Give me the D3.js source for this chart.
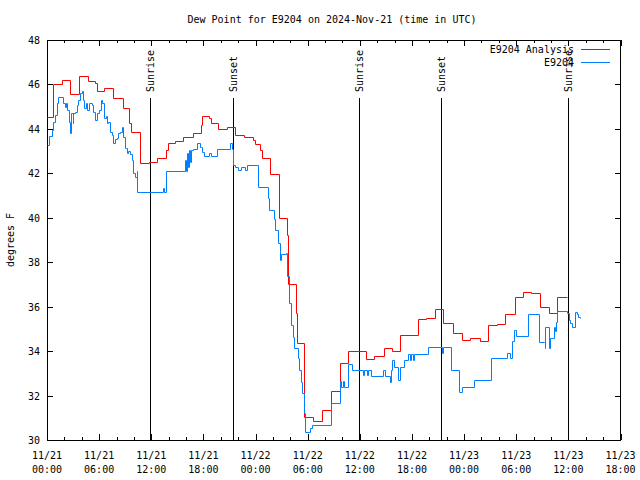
<!DOCTYPE html>
<html><head><meta charset="utf-8">
<script src="https://cdn.jsdelivr.net/npm/d3@7"></script>
<style>
body{margin:0;background:#fff;}
text{font-family:"DejaVu Sans Mono",monospace;font-size:10px;fill:#000;}
</style></head>
<body><svg id="c" width="640" height="480"></svg>
<script>
const titleText = "Dew Point for E9204 on 2024-Nov-21 (time in UTC)";
const yLabel = "degrees F";
const seriesNames = ["E9204 Analysis", "E9204"];
const seriesColors = ["#ff0000", "#0080ff"];
const xTickHours = [0,6,12,18,24,30,36,42,48,54,60,66];
const xTickLabels = ["11/21\n00:00","11/21\n06:00","11/21\n12:00","11/21\n18:00","11/22\n00:00","11/22\n06:00","11/22\n12:00","11/22\n18:00","11/23\n00:00","11/23\n06:00","11/23\n12:00","11/23\n18:00"];
const yTicks = [30,32,34,36,38,40,42,44,46,48];
const sunEventHours = [11.8, 21.35, 35.85, 45.4, 59.95];
const sunEventNames = ["Sunrise","Sunset","Sunrise","Sunset","Sunrise"];

const analysisHours = [0,0.66,1.69,2.65,3.72,4.76,5.53,5.72,6.57,7.57,8.72,9.48,9.64,10.71,11.78,12.70,13.71,13.90,14.74,15.70,16.78,17.70,17.85,18.69,18.85,19.73,20.70,21.65,22.69,23.69,23.96,24.53,24.76,25.68,26.72,27.61,27.72,28.60,28.76,29.60,30.60,31.64,32.71,33.67,34.63,36.74,37.66,38.74,39.70,40.66,42.65,43.65,44.69,45.58,46.73,47.77,48.72,49.79,50.76,51.80,52.75,53.82,54.75,55.71,56.78,57.74,58.74,59.86];
const analysisValues = [44.55,46.0,46.18,45.55,46.38,46.17,46.08,45.7,45.83,45.38,44.92,44.25,43.88,42.47,42.51,42.68,43.05,43.35,43.47,43.65,43.83,44.18,44.58,44.47,44.28,44.0,44.08,43.72,43.62,43.5,43.32,43.05,42.68,41.97,39.98,39.23,37.0,35.7,34.38,31.05,30.86,31.35,32.2,33.45,34.02,33.63,33.78,34.12,34.0,34.72,35.45,35.5,35.88,35.25,34.8,34.48,34.57,34.46,35.18,35.22,35.67,36.42,36.65,36.6,35.97,35.7,36.45,36.45];

const obsHours = [0,0.26,0.54,0.73,0.92,1.12,1.30,1.88,2.07,2.19,2.34,2.57,2.65,2.76,2.96,3.03,3.23,3.42,3.61,3.80,4.00,4.11,4.26,4.46,4.64,4.84,5.15,5.33,5.53,5.79,6.02,6.19,6.37,6.57,6.76,6.88,7.06,7.26,7.45,7.64,7.83,8.03,8.21,8.41,8.60,8.79,8.98,9.18,9.36,9.56,9.76,9.87,10.14,10.33,10.40,13.40,13.48,13.71,15.90,16.01,16.13,16.24,16.32,16.44,16.55,16.78,17.31,17.62,17.82,18.08,18.69,18.85,19.55,21.08,21.27,21.46,21.65,22.03,22.31,22.81,23.00,24.23,25.49,25.60,26.18,26.26,26.64,26.76,26.92,27.53,27.61,27.87,28.07,28.30,28.37,28.88,29.03,29.22,29.37,29.52,29.64,30.29,30.49,32.71,33.67,33.83,34.06,34.21,34.59,35.10,36.40,36.52,36.86,36.97,37.32,38.67,38.93,39.43,39.59,39.70,39.97,40.35,40.58,41.04,41.50,41.81,41.93,42.16,42.27,43.80,45.44,45.53,46.50,47.37,47.77,49.10,51.14,52.95,53.25,53.52,53.79,54.02,55.32,56.59,57.16,57.28,57.36,57.82,57.94,58.32,58.43,58.59,58.71,59.86,60.04,60.24,60.43,60.82,61.00,61.15,61.39];
const obsValues = [43.28,43.68,43.95,44.33,44.63,45.15,45.42,45.15,45.0,45.15,44.85,44.33,43.8,44.7,44.25,44.7,44.78,45.08,45.3,45.6,45.72,45.3,44.92,45.15,44.85,45.15,45.08,44.78,44.42,44.7,44.85,45.3,45.15,44.47,44.6,44.25,44.3,43.87,43.72,43.35,43.55,43.6,43.8,43.85,44.1,43.65,43.12,42.9,43.0,42.85,42.6,42.0,41.85,42.1,41.14,41.35,41.14,42.12,42.6,42.12,42.9,42.3,43.05,42.5,43.05,43.08,43.35,43.2,42.97,42.78,42.9,42.78,43.08,43.35,43.08,42.38,42.3,42.15,42.3,42.15,42.38,41.37,40.87,40.37,39.93,39.45,38.85,38.1,38.37,38.4,37.4,36.15,35.18,34.62,34.12,33.67,33.15,32.62,32.1,31.2,30.38,30.52,30.67,31.65,32.67,32.4,32.67,32.4,33.42,33.15,32.92,33.15,32.92,33.15,32.88,33.15,32.88,32.62,33.15,33.6,33.3,32.72,33.3,33.6,33.87,33.6,33.87,33.6,33.87,34.17,33.9,34.17,33.15,32.14,32.4,32.7,33.67,33.9,33.67,34.46,34.95,34.68,35.67,34.43,34.4,34.12,35.1,34.12,34.6,35.1,34.9,35.32,35.82,35.7,35.4,35.25,35.1,35.75,35.65,35.55,35.47];

const L = 47, R = 620.5, T = 40, B = 440;
const svg = d3.select("#c");
const x = d3.scaleLinear().domain([0, 66]).range([L, R]);
const y = d3.scaleLinear().domain([30, 48]).range([B, T]);

// frame
svg.append("rect").attr("x", L).attr("y", T).attr("width", R - L).attr("height", B - T)
  .attr("fill", "none").attr("stroke", "#000").attr("stroke-width", 1).attr("shape-rendering", "crispEdges");

// ticks
const minorHours = d3.range(0, 67, 2);
const tg = svg.append("g").attr("stroke", "#000").attr("shape-rendering", "crispEdges");
minorHours.forEach(h => {
  const major = h % 6 === 0;
  const len = major ? 6 : 3;
  const px = Math.round(x(h)) + 0.5;
  tg.append("line").attr("x1", px).attr("x2", px).attr("y1", B).attr("y2", B - len);
  tg.append("line").attr("x1", px).attr("x2", px).attr("y1", T).attr("y2", T + len);
});
yTicks.forEach(v => {
  const py = Math.round(y(v)) + 0.5;
  tg.append("line").attr("x1", L).attr("x2", L + 6).attr("y1", py).attr("y2", py);
  tg.append("line").attr("x1", R - 6).attr("x2", R).attr("y1", py).attr("y2", py);
});

// tick labels
yTicks.forEach(v => {
  svg.append("text").attr("x", 40).attr("y", y(v) + 4).attr("text-anchor", "end").text(v);
});
xTickHours.forEach((h, i) => {
  const parts = xTickLabels[i].split("\n");
  const t = svg.append("text").attr("text-anchor", "middle");
  parts.forEach((p, j) => t.append("tspan").attr("x", x(h)).attr("y", 459 + j * 14).text(p));
});

// title and axis label
svg.append("text").attr("x", 332).attr("y", 23).attr("text-anchor", "middle").text(titleText);
svg.append("text").attr("transform", "translate(14,240) rotate(-90)").attr("text-anchor", "middle").text(yLabel);

// sun events
sunEventHours.forEach((h, i) => {
  const px = Math.round(x(h)) + 0.5;
  svg.append("line").attr("x1", px).attr("x2", px).attr("y1", 98).attr("y2", B)
    .attr("stroke", "#000").attr("stroke-width", 1).attr("shape-rendering", "crispEdges");
  svg.append("text").attr("transform", `translate(${px + 3.5},92) rotate(-90)`)
    .attr("text-anchor", "start").text(sunEventNames[i]);
});

// series (snapped to pixel centres for crisp 1px steps)
const line = d3.line()
  .x(d => Math.round(x(d[0])) + 0.5)
  .y(d => Math.round(y(d[1])) + 0.5)
  .curve(d3.curveStepAfter);
const analysis = analysisHours.map((h, i) => [h, analysisValues[i]]);
const obs = obsHours.map((h, i) => [h, obsValues[i]]);
svg.append("path").datum(analysis).attr("d", line).attr("fill", "none")
  .attr("stroke", seriesColors[0]).attr("stroke-width", 1);
svg.append("path").datum(obs).attr("d", line).attr("fill", "none")
  .attr("stroke", seriesColors[1]).attr("stroke-width", 1);

// legend
seriesNames.forEach((n, i) => {
  const ly = 49.5 + i * 13;
  svg.append("text").attr("x", 574).attr("y", ly + 3.5).attr("text-anchor", "end").text(n);
  svg.append("line").attr("x1", 581).attr("x2", 610).attr("y1", ly).attr("y2", ly)
    .attr("stroke", seriesColors[i]).attr("stroke-width", 1).attr("shape-rendering", "crispEdges");
});
</script></body></html>
